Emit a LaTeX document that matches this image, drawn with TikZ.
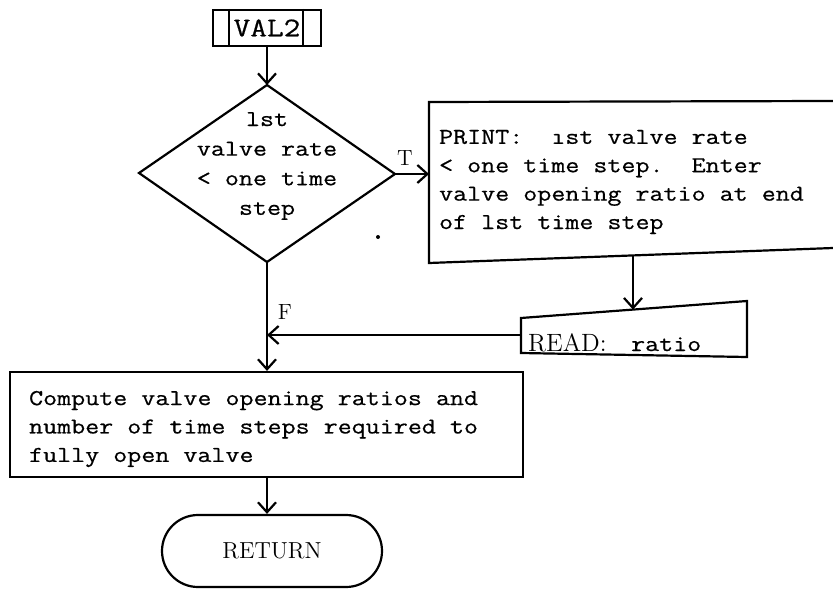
\documentclass[tikz,border=0pt]{standalone}
\usepackage{fontspec}
\setmonofont{Latin Modern Mono}[FakeStretch=1.2,FakeBold=0.6]
\usetikzlibrary{arrows.meta,shapes.misc}
% typewriter text of the boxes, larger typewriter for the entry tag, roman labels
\newcommand\twtext{\ttfamily\fontsize{11.35pt}{14.2pt}\selectfont}
\newcommand\twdia{\ttfamily\fontsize{11.35pt}{14.8pt}\selectfont}
\newcommand\twtag{\ttfamily\fontsize{13.5pt}{15pt}\selectfont}
\newcommand\rmlabel{\rmfamily\fontsize{11pt}{13pt}\selectfont}
\newcommand\rmret{\rmfamily\fontsize{11.6pt}{13pt}\selectfont}
\newcommand\rmread{\rmfamily\fontsize{12.5pt}{14pt}\selectfont}
\begin{document}
\begin{tikzpicture}[x=0.5pt,y=-0.5pt,line width=1.1pt,line join=miter,
  flow/.style={->},
  >={Straight Barb[length=5pt,width=9pt,line width=1.1pt]},
  txt/.style={inner sep=0pt,font=\twtext,align=left},
  lbl/.style={inner sep=0pt,font=\rmlabel}]
\useasboundingbox (0,0) rectangle (833,588);

% entry tag
\node[draw,minimum width=54pt,minimum height=18pt,inner sep=0pt,font=\twtag]
  (val2) at (267,28) {VAL2};
\draw ([xshift=8.5pt]val2.north west) -- ([xshift=8.5pt]val2.south west);
\draw ([xshift=-9.5pt]val2.north east) -- ([xshift=-9.5pt]val2.south east);

% decision diamond
\coordinate (dtop) at (267,85);
\coordinate (dright) at (395,174);
\coordinate (dbot) at (267,262);
\coordinate (dleft) at (139,173);
\draw (dtop) -- (dright) -- (dbot) -- (dleft) -- cycle;
\node[inner sep=0pt,font=\twdia,align=center] (dtext) at (267,166)
  {lst\\valve rate\\< one time\\step};

% print block (runs off to the right)
\coordinate (p1) at (429,102);
\coordinate (p2) at (833,101);
\coordinate (p3) at (833,248);
\coordinate (p4) at (429,263);
\draw (p2) -- (p1) -- (p4) -- (p3);
\coordinate (pin) at (429,174);
\coordinate (pout) at (633,255.4);
\node[txt,anchor=west] (ptext) at (438,182)
  {PRINT:\ \ ıst valve rate\\
   < one time step.\ \ Enter\\
   valve opening ratio at end\\
   of lst time step};

% manual input block
\coordinate (r1) at (521,318);
\coordinate (r2) at (747,301);
\coordinate (r3) at (747,357);
\coordinate (r4) at (521,353);
\draw (r1) -- (r2) -- (r3) -- (r4) -- cycle;
\coordinate (rin) at (633,309.6);
\coordinate (rout) at (521,335);
\node[inner sep=0pt,anchor=base west,font=\rmread] (rtext) at (527,351) {READ:};
\node[inner sep=0pt,anchor=base west,font=\twtext] (rval) at (630,351) {ratio};

% compute block
\node[draw,minimum width=256.5pt,minimum height=52.5pt,inner sep=0pt]
  (comp) at (266.5,424.5) {};
\node[txt,anchor=west] (ctext) at (28,429)
  {Compute valve opening ratios and\\
   number of time steps required to\\
   fully open valve};

% terminator
\node[draw,rounded rectangle,minimum width=110pt,minimum height=36pt,
  inner sep=0pt,font=\rmret] (ret) at (272,551) {RETURN};

% connectors
\coordinate (fjoin) at (267,335);
\draw[flow] (val2.south) -- (dtop);
\draw[flow] (dright) -- (pin);
\draw[flow] (pout) -- (rin);
\draw[flow] (rout) -- (fjoin);
\draw[flow] (dbot) -- (comp.north -| dbot);
\draw[flow] (comp.south -| dbot) -- (ret.north -| dbot);

% branch labels
\node[lbl] (tlab) at (405,158) {T};
\node[lbl] (flab) at (285,312) {F};

% stray ink dot
\fill (378,237) circle[radius=1pt];
\end{tikzpicture}
\end{document}
